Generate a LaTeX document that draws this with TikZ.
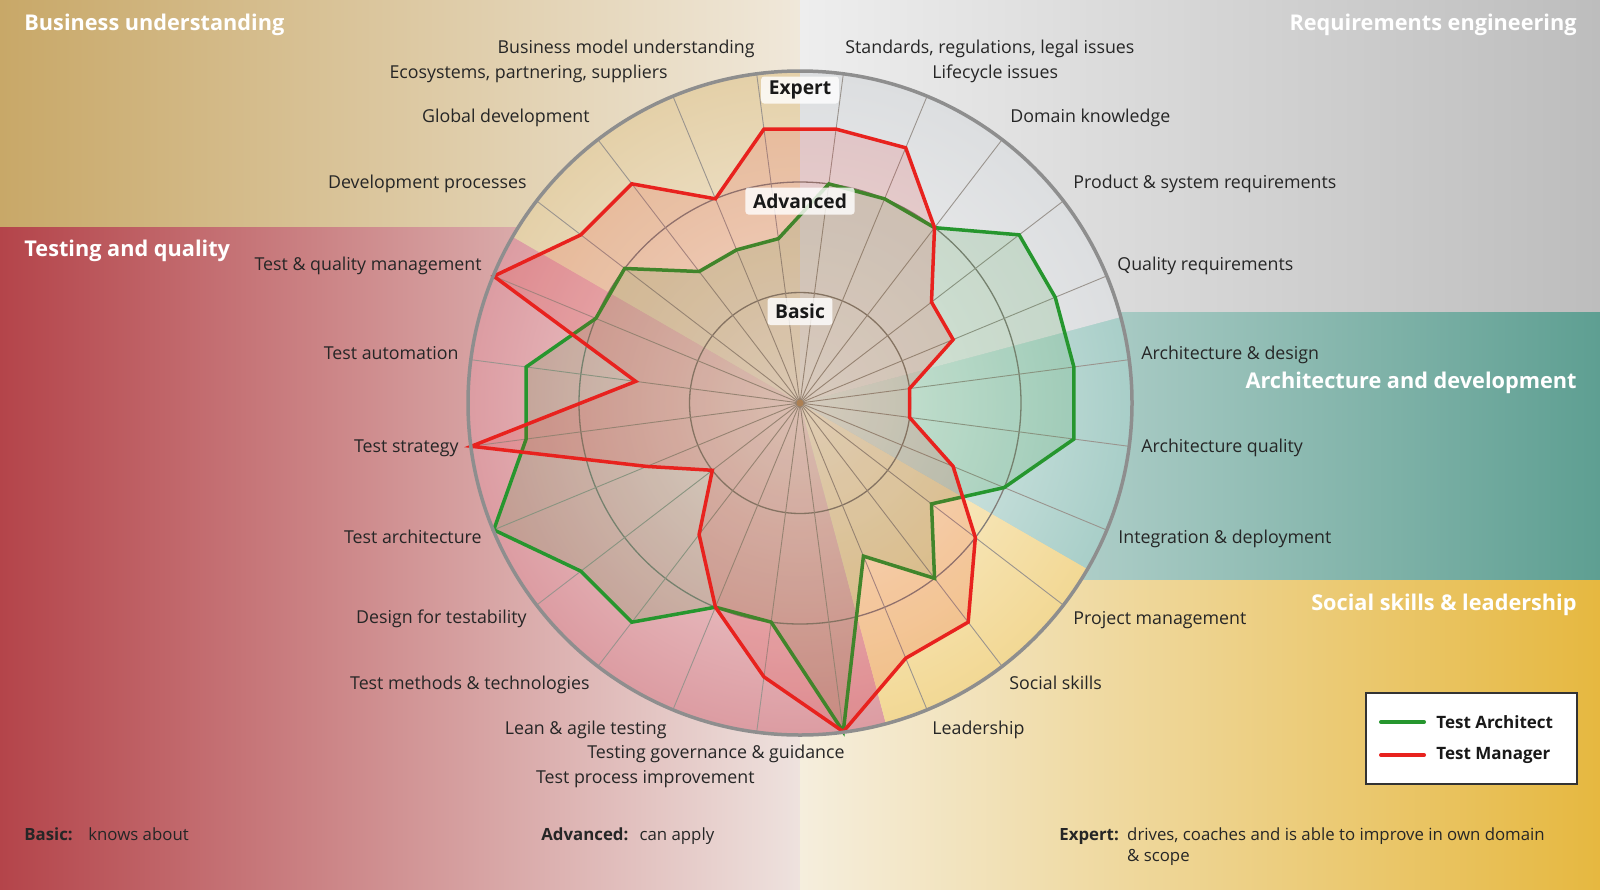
\documentclass[tikz,border=0pt]{standalone}
\usepackage{fontspec}
\setmainfont{Open Sans}
\usetikzlibrary{positioning}

\definecolor{bizL}{HTML}{C8A868}
\definecolor{bizR}{HTML}{F0E8DA}
\definecolor{reqL}{HTML}{EEEEEE}
\definecolor{reqR}{HTML}{BDBDBD}
\definecolor{testL}{HTML}{B4444A}
\definecolor{testR}{HTML}{EEE2DE}
\definecolor{archL}{HTML}{D8E6E4}
\definecolor{archR}{HTML}{5E9F92}
\definecolor{socL}{HTML}{F5EEDD}
\definecolor{socR}{HTML}{E6B840}
\definecolor{tanIn}{HTML}{F7F1E6}
\definecolor{tanRim}{HTML}{E4D0A8}
\definecolor{grayIn}{HTML}{F4F4F4}
\definecolor{grayRim}{HTML}{DCDEE0}
\definecolor{tealIn}{HTML}{F0F6F4}
\definecolor{tealRim}{HTML}{A8CEC8}
\definecolor{yelIn}{HTML}{FDF7E8}
\definecolor{yelRim}{HTML}{F2D894}
\definecolor{redIn}{HTML}{F6E4E4}
\definecolor{redRim}{HTML}{DC9CA2}
\definecolor{archGreen}{HTML}{26962E}
\definecolor{mgrRed}{HTML}{E8221E}
\definecolor{gridGray}{HTML}{9A948E}
\definecolor{rimGray}{HTML}{8E8E8E}
\definecolor{labelText}{HTML}{262626}

\newcommand{\levelstep}{110.5}
% one coloured sector of the disc, white towards the hub
\newcommand{\sectorshade}[4]{%
  \begin{scope}
    \clip (0,0) -- (#1:333) arc[start angle=#1, end angle=#2, radius=333] -- cycle;
    \shade[inner color=#3, outer color=#4] (0,0) circle (332);
  \end{scope}}

\begin{document}
\begin{tikzpicture}[x=0.5pt, y=-0.5pt,
    axislabel/.style={inner sep=0pt, text=labelText, font=\fontsize{8.9}{10}\selectfont, text height=7pt, text depth=2pt},
    heading/.style={inner sep=0pt, text=white, font=\fontsize{10.85}{12}\selectfont\bfseries},
    levelbox/.style={fill=white, fill opacity=0.8, text opacity=1, text=black!90, rounded corners=1.5pt, inner xsep=3.8pt, inner ysep=0pt, minimum height=13.5pt, font=\fontsize{9.6}{11}\selectfont\bfseries},
    spoke/.style={draw=gridGray, line width=0.45pt},
    ring/.style={draw=gridGray!85!black, line width=0.65pt},
    rim/.style={draw=rimGray, line width=1.75pt},
    archline/.style={draw=archGreen, line width=1.75pt},
    mgrline/.style={draw=mgrRed, line width=1.75pt},
    archpoly/.style={archline, fill=archGreen, fill opacity=0.14},
    mgrpoly/.style={mgrline, fill=mgrRed, fill opacity=0.14},
    legendbox/.style={draw=black!80, line width=0.8pt, fill=white, minimum width=105.5pt, minimum height=45.5pt, inner sep=0pt},
    legtext/.style={inner sep=0pt, text=black!90, font=\fontsize{8.5}{10}\selectfont\bfseries},
    keyword/.style={inner sep=0pt, text=labelText, font=\fontsize{8.4}{10.85}\selectfont\bfseries, text height=6.5pt, text depth=2pt},
    note/.style={inner sep=0pt, text=labelText, font=\fontsize{8.4}{10.85}\selectfont, align=left}]
  \useasboundingbox (0,0) rectangle (1600,889);

  % competence areas
  \shade[left color=bizL, right color=bizR] (0,0) rectangle (800,227);
  \shade[left color=reqL, right color=reqR] (800,0) rectangle (1600,312);
  \shade[left color=testL, right color=testR] (0,227) rectangle (800,889);
  \shade[left color=archL, right color=archR] (800,312) rectangle (1600,580);
  \shade[left color=socL, right color=socR] (800,580) rectangle (1600,889);

  % radar
  \begin{scope}[shift={(800,403)}, y=0.5pt]
    \sectorshade{90}{150}{tanIn}{tanRim}
    \sectorshade{150}{285}{redIn}{redRim}
    \sectorshade{285}{330}{yelIn}{yelRim}
    \sectorshade{-30}{15}{tealIn}{tealRim}
    \sectorshade{15}{90}{grayIn}{grayRim}
    \draw[ring] (0,0) circle (\levelstep) (0,0) circle ({2*\levelstep});
    \foreach \i in {0,...,23}
      \draw[spoke] (0,0) -- ({97.5-15*\i}:332);
    % Test Architect
    \filldraw[archpoly] (97.5:{1.5*\levelstep})
      \foreach \v [count=\i] in {2,2,2,2.5,2.5,2.5,2.5,2,1.5,2,1.5,3,2,2,2.5,2.5,3,2.5,2.5,2,2,1.5,1.5}
        { -- ({97.5-15*\i}:{\v*\levelstep}) } -- cycle;
    % Test Manager
    \filldraw[mgrpoly] (97.5:{2.5*\levelstep})
      \foreach \v [count=\i] in {2.5,2.5,2,1.5,1.5,1,1,1.5,2,2.5,2.5,3,2.5,2,1.5,1,1.5,3,1.5,3,2.5,2.5,2}
        { -- ({97.5-15*\i}:{\v*\levelstep}) } -- cycle;
    \draw[rim] (0,0) circle (332);
    \fill[brown!70!gray] (0,0) circle (3.5);
    \node[levelbox] (lvbasic) at (90:91.5) {Basic};
    \node[levelbox] (lvadv) at (90:202) {Advanced};
    \node[levelbox] (lvexpert) at (90:313) {Expert};
  \end{scope}

  % axis labels
  \foreach \px/\py/\anc/\txt [count=\i] in {
      755/48/east/{Business model understanding},
      845/48/west/{Standards, regulations, legal issues},
      668/73/east/{Ecosystems, partnering, suppliers},
      932/73/west/{Lifecycle issues},
      590/117/east/{Global development},
      1010/117/west/{Domain knowledge},
      527/183/east/{Development processes},
      1073/183/west/{Product \& system requirements},
      482/265/east/{Test \& quality management},
      1117/265/west/{Quality requirements},
      459/354/east/{Test automation},
      1141/354/west/{Architecture \& design},
      459/447/east/{Test strategy},
      1141/447/west/{Architecture quality},
      482/538/east/{Test architecture},
      1118/538/west/{Integration \& deployment},
      527/618/east/{Design for testability},
      1073/619/west/{Project management},
      590/684/east/{Test methods \& technologies},
      1009/684/west/{Social skills},
      667/729/east/{Lean \& agile testing},
      932/729/west/{Leadership},
      845/753/east/{Testing governance \& guidance},
      755/778/east/{Test process improvement}}
    \node[axislabel, anchor=\anc] (ax\i) at (\px,\py) {\txt};

  % area headings
  \node[heading, anchor=west] (hbiz) at (24,25) {Business understanding};
  \node[heading, anchor=east] (hreq) at (1577,25) {Requirements engineering};
  \node[heading, anchor=west] (htest) at (24,251) {Testing and quality};
  \node[heading, anchor=east] (harch) at (1577,383) {Architecture and development};
  \node[heading, anchor=east] (hsoc) at (1577,605) {Social skills \& leadership};

  % legend
  \node[legendbox] (legend) at (1471.5,738.5) {};
  \node[legtext, anchor=west] (legarch) at (1436,722) {Test Architect};
  \node[legtext, anchor=west] (legmgr) at (1436,755) {Test Manager};
  \draw[archline, line width=2pt, line cap=round] ([xshift=-6pt]legarch.west) -- ++(-43,0);
  \draw[mgrline, line width=2pt, line cap=round] ([xshift=-6pt]legmgr.west) -- ++(-43,0);

  % level key
  \node[keyword, anchor=west] (kwbasic) at (24,836) {Basic:};
  \node[note, base right=7.4pt of kwbasic] (ntbasic) {knows about};
  \node[keyword, anchor=west] (kwadv) at (541,836) {Advanced:};
  \node[note, base right=5.2pt of kwadv] (ntadv) {can apply};
  \node[keyword, anchor=west] (kwexp) at (1059,836) {Expert:};
  \node[note, anchor=north west] (ntexp) at ([xshift=3.8pt]kwexp.north east) {drives, coaches and is able to improve in own domain\\\& scope};
\end{tikzpicture}
\end{document}
